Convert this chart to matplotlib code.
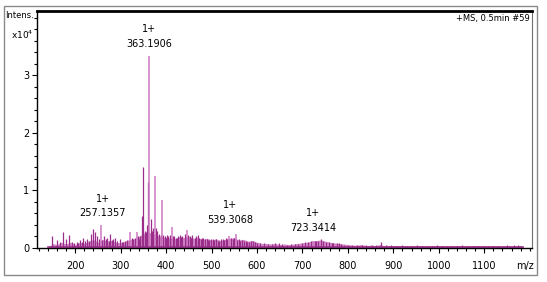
import matplotlib
matplotlib.use("Agg")
import matplotlib.pyplot as plt
from matplotlib.patches import Rectangle
from matplotlib.ticker import MultipleLocator, FixedLocator

# ---------------- data (intensity in units of 1e4) ----------------
grass_mz = [140, 150, 160, 170, 180, 190, 200, 210, 220, 230, 240, 250, 260, 270, 280, 290,
            300, 310, 320, 330, 340, 350, 360, 370, 380, 390, 400, 410, 420, 430, 440, 450,
            460, 470, 480, 490, 500, 510, 520, 530, 540, 550, 560, 570, 580, 590, 600, 610,
            620, 630, 640, 650, 660, 670, 680, 690, 700, 710, 720, 730, 740, 750, 760, 770,
            780, 790, 800, 810, 820, 830, 840, 850, 860, 870, 880, 890, 900, 920, 940, 960,
            980, 1000, 1020, 1040, 1060, 1080, 1100, 1120, 1140, 1160, 1180, 1190]
grass_int = [0.0, 0.08, 0.06, 0.1, 0.07, 0.1, 0.06, 0.1, 0.08, 0.12, 0.15, 0.1, 0.15, 0.12, 0.13, 0.1,
             0.09, 0.12, 0.15, 0.16, 0.2, 0.25, 0.28, 0.25, 0.22, 0.2, 0.18, 0.17, 0.16, 0.2, 0.18, 0.2,
             0.17, 0.18, 0.15, 0.17, 0.14, 0.16, 0.13, 0.15, 0.17, 0.18, 0.14, 0.15, 0.12, 0.13, 0.1, 0.08,
             0.08, 0.07, 0.08, 0.06, 0.07, 0.06, 0.07, 0.08, 0.09, 0.1, 0.12, 0.13, 0.14, 0.12, 0.1, 0.09,
             0.08, 0.07, 0.06, 0.05, 0.05, 0.06, 0.04, 0.05, 0.04, 0.06, 0.04, 0.04, 0.04, 0.04, 0.035, 0.04,
             0.035, 0.04, 0.035, 0.04, 0.035, 0.04, 0.035, 0.035, 0.03, 0.03, 0.03, 0.0]

dark_mz = [150, 159, 166, 174, 179, 187, 193, 198, 203, 207, 211, 215, 218, 222, 227, 231, 235, 240,
           243, 247, 252, 260, 263, 267, 270, 274, 277, 280, 283, 288, 293, 298, 302, 305, 310, 315,
           318, 324, 327, 331, 338, 341, 343, 347, 350, 353, 356, 358, 361, 366, 369, 372, 378, 381,
           385, 388, 394, 397, 399, 402, 404, 408, 411, 416, 418, 421, 424, 427, 430, 433, 436, 441,
           444, 449, 452, 455, 458, 463, 466, 470, 473, 476, 479, 482, 486, 489, 492, 495, 499, 503,
           506, 510, 514, 517, 521, 525, 528, 532, 535, 543, 547, 550, 557, 560, 563, 567, 571, 575,
           579, 583, 587, 591, 595, 600, 607, 615, 624, 632, 640, 648, 656, 665, 674, 683, 690, 698,
           705, 712, 718, 727, 730, 735, 740, 745, 752, 758, 764, 768, 775, 780, 785, 792, 800, 810,
           820, 831, 840, 852, 861, 872, 884, 895, 905, 918, 930, 940, 952, 963, 975, 985, 996, 1008,
           1019, 1030, 1041, 1052, 1063, 1075, 1086, 1097, 1108, 1120, 1131, 1150, 1165, 1175]
dark_int = [0.2, 0.14, 0.1, 0.27, 0.15, 0.23, 0.1, 0.08, 0.1, 0.09, 0.14, 0.1, 0.18, 0.12, 0.15, 0.13, 0.24, 0.33,
            0.28, 0.2, 0.16, 0.14, 0.2, 0.15, 0.17, 0.13, 0.25, 0.14, 0.15, 0.18, 0.12, 0.15, 0.11, 0.1, 0.12, 0.14,
            0.12, 0.17, 0.15, 0.18, 0.2, 0.16, 0.2, 0.55, 1.41, 0.3, 0.28, 0.4, 1.15, 0.5, 0.3, 0.35, 0.35, 0.3,
            0.25, 0.22, 0.22, 0.2, 0.18, 0.22, 0.2, 0.22, 0.18, 0.21, 0.2, 0.17, 0.18, 0.2, 0.22, 0.19, 0.2, 0.24,
            0.19, 0.22, 0.2, 0.18, 0.22, 0.18, 0.2, 0.22, 0.17, 0.15, 0.17, 0.18, 0.15, 0.16, 0.14, 0.14, 0.16, 0.15,
            0.14, 0.16, 0.13, 0.13, 0.15, 0.16, 0.14, 0.18, 0.16, 0.17, 0.16, 0.18, 0.14, 0.15, 0.13, 0.14, 0.12, 0.13,
            0.11, 0.11, 0.12, 0.12, 0.1, 0.09, 0.09, 0.08, 0.07, 0.07, 0.08, 0.08, 0.07, 0.06, 0.07, 0.07, 0.07, 0.09,
            0.1, 0.11, 0.12, 0.12, 0.13, 0.12, 0.15, 0.12, 0.1, 0.11, 0.09, 0.09, 0.08, 0.08, 0.07, 0.06, 0.06, 0.05,
            0.05, 0.06, 0.06, 0.05, 0.05, 0.1, 0.05, 0.05, 0.04, 0.05, 0.04, 0.04, 0.05, 0.04, 0.04, 0.04, 0.05, 0.04,
            0.04, 0.04, 0.04, 0.05, 0.04, 0.04, 0.04, 0.04, 0.04, 0.04, 0.04, 0.05, 0.05, 0.05]

light_mz = [257.1357, 321, 335, 363.1906, 376, 390, 413, 446, 539.3068, 553, 723.3414]
light_int = [0.40, 0.28, 0.27, 3.33, 1.25, 0.83, 0.37, 0.31, 0.21, 0.24, 0.12]

ann_mz = [261, 363.19, 540.5, 723.3]
ann_txt = ["257.1357", "363.1906", "539.3068", "723.3414"]
ann_y = [0.61, 3.55, 0.49, 0.35]

x_ticks = [200, 300, 400, 500, 600, 700, 800, 900, 1000, 1100]
y_ticks = [0, 1, 2, 3]

# ---------------- figure ----------------
W, H = 547, 282
fig = plt.figure(figsize=(W / 100, H / 100), dpi=100)
plt.rcParams['font.family'] = ['DejaVu Sans']

fig.patches.append(Rectangle((4 / W, 1 - 275 / H), (537 - 4) / W, (275 - 6) / H,
                             transform=fig.transFigure, fill=False, edgecolor='#8a8a8a', lw=1.0))

ax = fig.add_axes([37 / W, 1 - 248 / H, (532 - 37) / W, (248 - 11) / H])
ax.set_xlim(116, 1205)
ax.set_ylim(0, 4.12)

dark = '#9b2d8a'
light = '#cd78c0'
ax.fill_between(grass_mz, 0, grass_int, color='#cf7fc2', lw=0, alpha=0.9)
ax.vlines(dark_mz, 0, dark_int, color=dark, lw=0.9)
ax.vlines(light_mz, 0, light_int, color=light, lw=1.1)
ax.plot([140, 1185], [0.012, 0.012], color=dark, lw=1.2)

for x, t, y in zip(ann_mz, ann_txt, ann_y):
    ax.text(x, y, t, ha='center', va='center', fontsize=7)
    ax.text(x, y + 0.25, "1+", ha='center', va='center', fontsize=7)

for s in ['left', 'bottom']:
    ax.spines[s].set_color('black')
    ax.spines[s].set_linewidth(1.0)
ax.spines['top'].set_linewidth(2.0)
ax.spines['top'].set_color('black')
ax.spines['right'].set_color('#707070')
ax.spines['right'].set_linewidth(0.8)

ax.xaxis.set_major_locator(FixedLocator(x_ticks))
ax.xaxis.set_minor_locator(MultipleLocator(20))
ax.yaxis.set_major_locator(FixedLocator(y_ticks))
ax.yaxis.set_minor_locator(MultipleLocator(0.2))
ax.tick_params(axis='both', which='major', direction='out', length=3.5, width=0.8, labelsize=7)
ax.tick_params(axis='x', which='major', pad=6)
ax.tick_params(axis='y', which='major', pad=2)
ax.tick_params(axis='both', which='minor', direction='out', length=2, width=0.8)
ax.set_xticklabels([str(v) for v in x_ticks])
ax.set_yticklabels([str(v) for v in y_ticks])

fig.text(20 / W, 1 - 16 / H, "Intens.", ha='center', va='center', fontsize=6)
fig.text(22 / W, 1 - 35 / H, "x10$^4$", ha='center', va='center', fontsize=6.5)
fig.text(530 / W, 1 - 18 / H, "+MS, 0.5min #59", ha='right', va='center', fontsize=6)
fig.text(525 / W, 1 - 266 / H, "m/z", ha='center', va='center', fontsize=7)

fig.savefig("out.png", dpi=100)
